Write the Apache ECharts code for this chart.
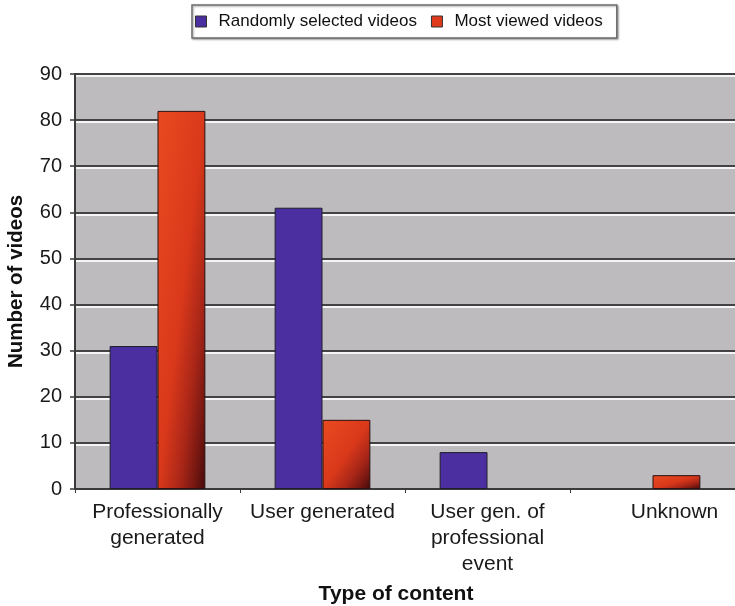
<!DOCTYPE html>
<html>
<head>
<meta charset="utf-8">
<script src="https://cdn.jsdelivr.net/npm/echarts@6/dist/echarts.min.js"></script>
<style>
  html, body { margin: 0; padding: 0; background: #ffffff; }
  #chart { width: 735px; height: 606px; }
</style>
</head>
<body>
<div id="chart"></div>
<script>
// Content types on the category axis
const categories = [
  'Professionally\ngenerated',
  'User generated',
  'User gen. of\nprofessional\nevent',
  'Unknown'
];
// Counts of videos per content type
const randomVideos = [31, 61, 8, 0];
const mostViewedVideos = [82, 15, 0, 3];
const yTicks = { min: 0, max: 90, interval: 10 };

const FONT = '"Liberation Sans", Arial, Helvetica, sans-serif';

// Plot geometry used to shape the diagonal shading of the red bars
const GRID = { left: 75, right: 0, top: 74, bottom: 117 };
const CHART_H = 606;
const PX_PER_UNIT = (CHART_H - GRID.top - GRID.bottom) / (yTicks.max - yTicks.min);
const BAR_W = 47.5;

// Diagonal shading whose bands run from the top-right corner to the
// bottom-left corner of each bar: bright at top-left, dark at bottom-right.
function redShade(value) {
  const h = Math.max(value * PX_PER_UNIT, 1);
  const w = BAR_W;
  const s = h * h + w * w;
  return new echarts.graphic.LinearGradient(0, 0, 2 * h * h / s, 2 * w * w / s, [
    { offset: 0, color: '#ea4a20' },
    { offset: 0.5, color: '#d9391a' },
    { offset: 0.72, color: '#a92618' },
    { offset: 0.88, color: '#721610' },
    { offset: 1, color: '#420a0a' }
  ]);
}

// Empty bars get no outline so nothing is drawn on the baseline
const outline = v => (v === 0 ? 0 : 1);

const chart = echarts.init(document.getElementById('chart'), null, { renderer: 'canvas' });

chart.setOption({
  animation: false,
  textStyle: { fontFamily: FONT },
  legend: {
    left: 192,
    top: 5,
    padding: [8, 14, 8, 3],
    icon: 'rect',
    itemWidth: 11,
    itemHeight: 11,
    itemGap: 14,
    borderColor: '#6e6e6e',
    borderWidth: 1.5,
    backgroundColor: '#ffffff',
    shadowColor: 'rgba(0,0,0,0.35)',
    shadowBlur: 2,
    shadowOffsetX: 1,
    shadowOffsetY: 1,
    itemStyle: { borderColor: '#333', borderWidth: 1 },
    textStyle: { fontFamily: FONT, fontSize: 17, color: '#111', padding: [0, 0, 0, 7] },
    data: ['Randomly selected videos', 'Most viewed videos']
  },
  grid: {
    left: GRID.left,
    right: GRID.right,
    top: GRID.top,
    bottom: GRID.bottom,
    outerBoundsMode: 'none',
    containLabel: false,
    show: true,
    backgroundColor: '#bdbbbe',
    borderWidth: 0
  },
  xAxis: {
    type: 'category',
    data: categories,
    name: 'Type of content',
    nameLocation: 'middle',
    nameGap: 95,
    nameTextStyle: {
      fontFamily: FONT, fontSize: 21, fontWeight: 'bold', color: '#111',
      padding: [0, 18, 0, 0]
    },
    axisLine: { lineStyle: { color: '#3a3a3a', width: 2 } },
    axisTick: { show: true, length: 4, lineStyle: { color: '#3a3a3a' } },
    axisLabel: {
      fontFamily: FONT,
      fontSize: 21,
      color: '#1a1a1a',
      margin: 10,
      lineHeight: 26,
      interval: 0,
      formatter: (value, index) =>
        index === categories.length - 1 ? '{shift|' + value + '}' : value,
      rich: {
        shift: { fontFamily: FONT, fontSize: 21, color: '#1a1a1a', padding: [0, 0, 0, 44] }
      }
    }
  },
  yAxis: {
    type: 'value',
    min: yTicks.min,
    max: yTicks.max,
    interval: yTicks.interval,
    name: 'Number of videos',
    nameLocation: 'middle',
    nameGap: 48,
    nameTextStyle: { fontFamily: FONT, fontSize: 20.5, fontWeight: 'bold', color: '#111' },
    axisLine: { show: true, lineStyle: { color: '#3a3a3a', width: 2 } },
    axisTick: { show: true, length: 5, lineStyle: { color: '#3a3a3a', width: 1.5 } },
    axisLabel: { fontFamily: FONT, fontSize: 20, color: '#1a1a1a', margin: 13 },
    splitLine: {
      show: true,
      lineStyle: {
        color: '#434343',
        width: 2,
        shadowColor: 'rgba(255,255,255,0.85)',
        shadowBlur: 0,
        shadowOffsetY: 2
      }
    }
  },
  series: [
    {
      name: 'Randomly selected videos',
      type: 'bar',
      data: randomVideos.map(v => ({ value: v, itemStyle: { borderWidth: outline(v) } })),
      barGap: '0%',
      barCategoryGap: '42%',
      itemStyle: {
        color: '#4b2ea0',
        borderColor: '#1e1e2a',
        borderWidth: 1
      }
    },
    {
      name: 'Most viewed videos',
      type: 'bar',
      data: mostViewedVideos.map(v => ({
        value: v,
        itemStyle: { color: redShade(v), borderWidth: outline(v) }
      })),
      itemStyle: {
        color: '#e03a1c',
        borderColor: '#2a1010',
        borderWidth: 1
      }
    }
  ]
});
</script>
</body>
</html>
